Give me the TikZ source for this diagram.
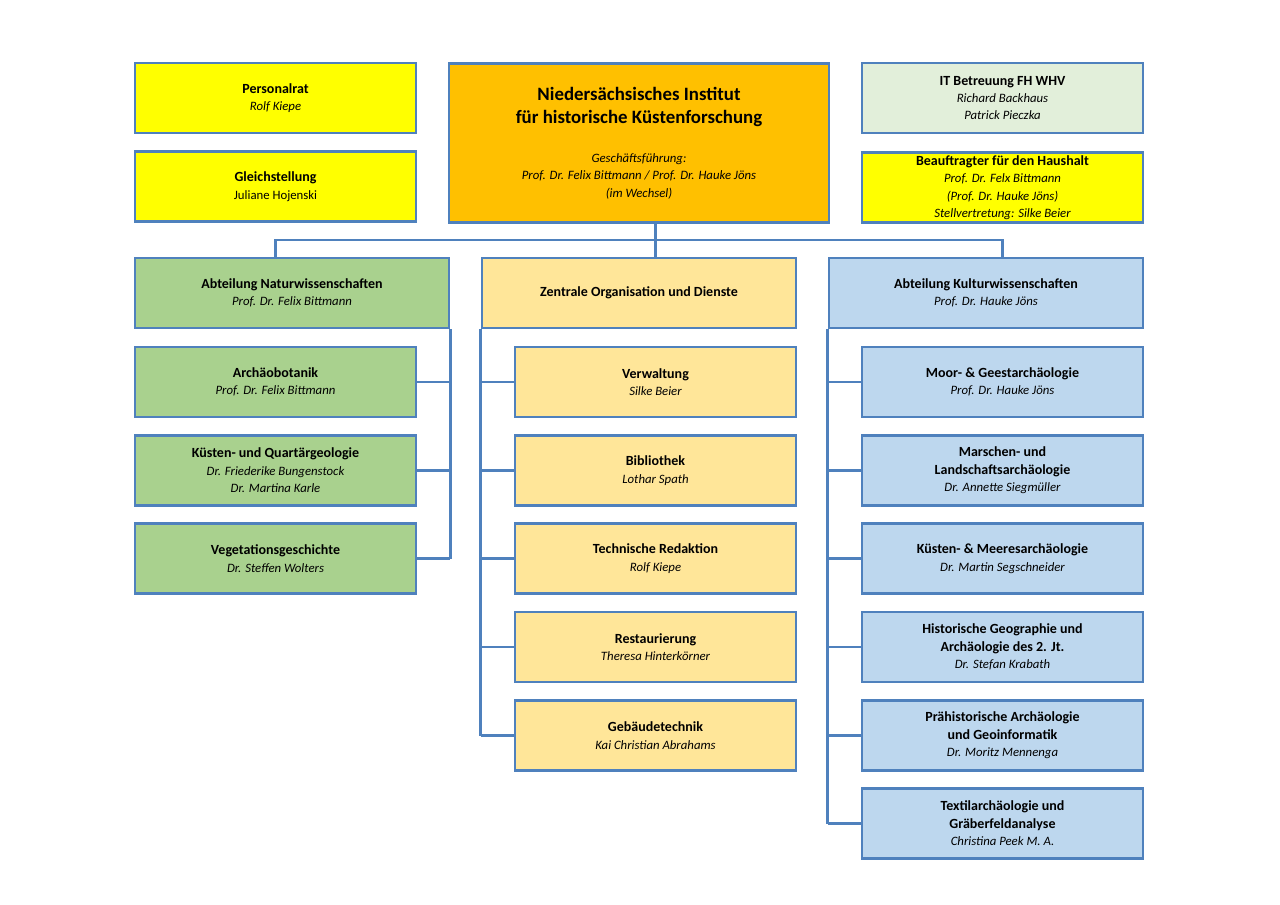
\documentclass[tikz,border=0pt]{standalone}
\usepackage{fontspec}
\setmainfont{Carlito}
\usetikzlibrary{calc}
\definecolor{frame}{HTML}{4F81BD}
\definecolor{signal}{HTML}{FFFF00}
\definecolor{institut}{HTML}{FFC000}
\definecolor{itgrey}{HTML}{E2EFDA}
\definecolor{natur}{HTML}{A9D18E}
\definecolor{dienst}{HTML}{FFE699}
\definecolor{kultur}{HTML}{BDD7EE}
\def\pname#1{{\fontsize{8.4}{11.5}\selectfont\itshape #1}}
\def\tline#1{{\fontsize{12.4}{15}\selectfont\bfseries #1}}

\begin{document}
\begin{tikzpicture}[x=0.6578pt, y=-0.6578pt,
		unitbox/.style={draw=frame, line width=1.6pt, align=center, inner sep=0pt,
			font=\fontsize{9.2}{11.5}\selectfont, minimum width=184.8pt, minimum height=46pt},
		deptbox/.style={unitbox, minimum width=206.6pt},
		link/.style={draw=frame, line width=1.7pt}]
		%%%%% START %%%%%
		
		\useasboundingbox[fill=white] (0, 0) rectangle (1280, 905);
		
		% Leitung und Stabsstellen
		\node[unitbox, fill=signal] (prat) at (275.5, 98) {\textbf{Personalrat}\\\pname{Rolf Kiepe}};
		\node[unitbox, fill=signal] (gleich) at (275.5, 186.5) {\textbf{Gleichstellung}\\\fontsize{8.4}{11.5}\selectfont Juliane Hojenski};
		\node[unitbox, fill=institut, minimum width=250pt, minimum height=104.6pt] (inst) at (639, 143) {\tline{Niedersächsisches Institut}\\[4pt]\tline{für historische Küstenforschung}\\[14pt]\pname{Geschäftsführung:}\\\pname{Prof. Dr. Felix Bittmann / Prof. Dr. Hauke Jöns}\\\pname{(im Wechsel)}};
		\node[unitbox, fill=itgrey] (it) at (1002.5, 98) {\textbf{IT Betreuung FH WHV}\\\pname{Richard Backhaus}\\\pname{Patrick Pieczka}};
		\node[unitbox, fill=signal] (haushalt) at (1002.5, 187.5) {\textbf{Beauftragter für den Haushalt}\\\pname{Prof. Dr. Felx Bittmann}\\\pname{(Prof. Dr. Hauke Jöns)}\\\pname{Stellvertretung: Silke Beier}};
		
		% Abteilungen
		\node[deptbox, fill=natur] (nat) at (292, 293) {\textbf{Abteilung Naturwissenschaften}\\\pname{Prof. Dr. Felix Bittmann}};
		\node[deptbox, fill=dienst] (zod) at (639, 293) {\textbf{Zentrale Organisation und Dienste}};
		\node[deptbox, fill=kultur] (kul) at (986, 293) {\textbf{Abteilung Kulturwissenschaften}\\\pname{Prof. Dr. Hauke Jöns}};
		
		% Naturwissenschaften
		\node[unitbox, fill=natur] (arch) at (275.5, 382) {\textbf{Archäobotanik}\\\pname{Prof. Dr. Felix Bittmann}};
		\node[unitbox, fill=natur] (quart) at (275.5, 470.5) {\textbf{Küsten- und Quartärgeologie}\\\pname{Dr. Friederike Bungenstock}\\\pname{Dr. Martina Karle}};
		\node[unitbox, fill=natur] (veg) at (275.5, 558.5) {\textbf{Vegetationsgeschichte}\\\pname{Dr. Steffen Wolters}};
		
		% Zentrale Dienste
		\node[unitbox, fill=dienst] (verw) at (655.5, 382) {\textbf{Verwaltung}\\\pname{Silke Beier}};
		\node[unitbox, fill=dienst] (bib) at (655.5, 470.5) {\textbf{Bibliothek}\\\pname{Lothar Spath}};
		\node[unitbox, fill=dienst] (red) at (655.5, 558.5) {\textbf{Technische Redaktion}\\\pname{Rolf Kiepe}};
		\node[unitbox, fill=dienst] (rest) at (655.5, 647) {\textbf{Restaurierung}\\\pname{Theresa Hinterkörner}};
		\node[unitbox, fill=dienst] (geb) at (655.5, 735.5) {\textbf{Gebäudetechnik}\\\pname{Kai Christian Abrahams}};
		
		% Kulturwissenschaften
		\node[unitbox, fill=kultur] (moor) at (1002.5, 382) {\textbf{Moor- \& Geestarchäologie}\\\pname{Prof. Dr. Hauke Jöns}};
		\node[unitbox, fill=kultur] (marsch) at (1002.5, 470.5) {\textbf{Marschen- und}\\\textbf{Landschaftsarchäologie}\\\pname{Dr. Annette Siegmüller}};
		\node[unitbox, fill=kultur] (meer) at (1002.5, 558.5) {\textbf{Küsten- \& Meeresarchäologie}\\\pname{Dr. Martin Segschneider}};
		\node[unitbox, fill=kultur] (geo) at (1002.5, 647) {\textbf{Historische Geographie und}\\\textbf{Archäologie des 2. Jt.}\\\pname{Dr. Stefan Krabath}};
		\node[unitbox, fill=kultur] (prae) at (1002.5, 735.5) {\textbf{Prähistorische Archäologie}\\\textbf{und Geoinformatik}\\\pname{Dr. Moritz Mennenga}};
		\node[unitbox, fill=kultur] (textil) at (1002.5, 823.5) {\textbf{Textilarchäologie und}\\\textbf{Gräberfeldanalyse}\\\pname{Christina Peek M. A.}};
		
		% Verbindungen
		\coordinate (bus) at (655.5, 240);
		\draw[link] (inst.south -| bus) -- (bus);
		\draw[link] (arch |- nat.north) -- (arch |- bus) -- (moor |- bus) -- (moor |- kul.north);
		\draw[link] (bus) -- (bus |- zod.north);
		
		\draw[link] (nat.south east) -- (nat.east |- veg.east);
		\foreach \n in {arch, quart, veg}
			\draw[link] (\n.east) -- (\n.east -| nat.east);
		
		\draw[link] (zod.south west) -- (zod.west |- geb.west);
		\foreach \n in {verw, bib, red, rest, geb}
			\draw[link] (\n.west) -- (\n.west -| zod.west);
		
		\draw[link] (kul.south west) -- (kul.west |- textil.west);
		\foreach \n in {moor, marsch, meer, geo, prae, textil}
			\draw[link] (\n.west) -- (\n.west -| kul.west);
		
		%%%%% END %%%%%
\end{tikzpicture}
\end{document}
